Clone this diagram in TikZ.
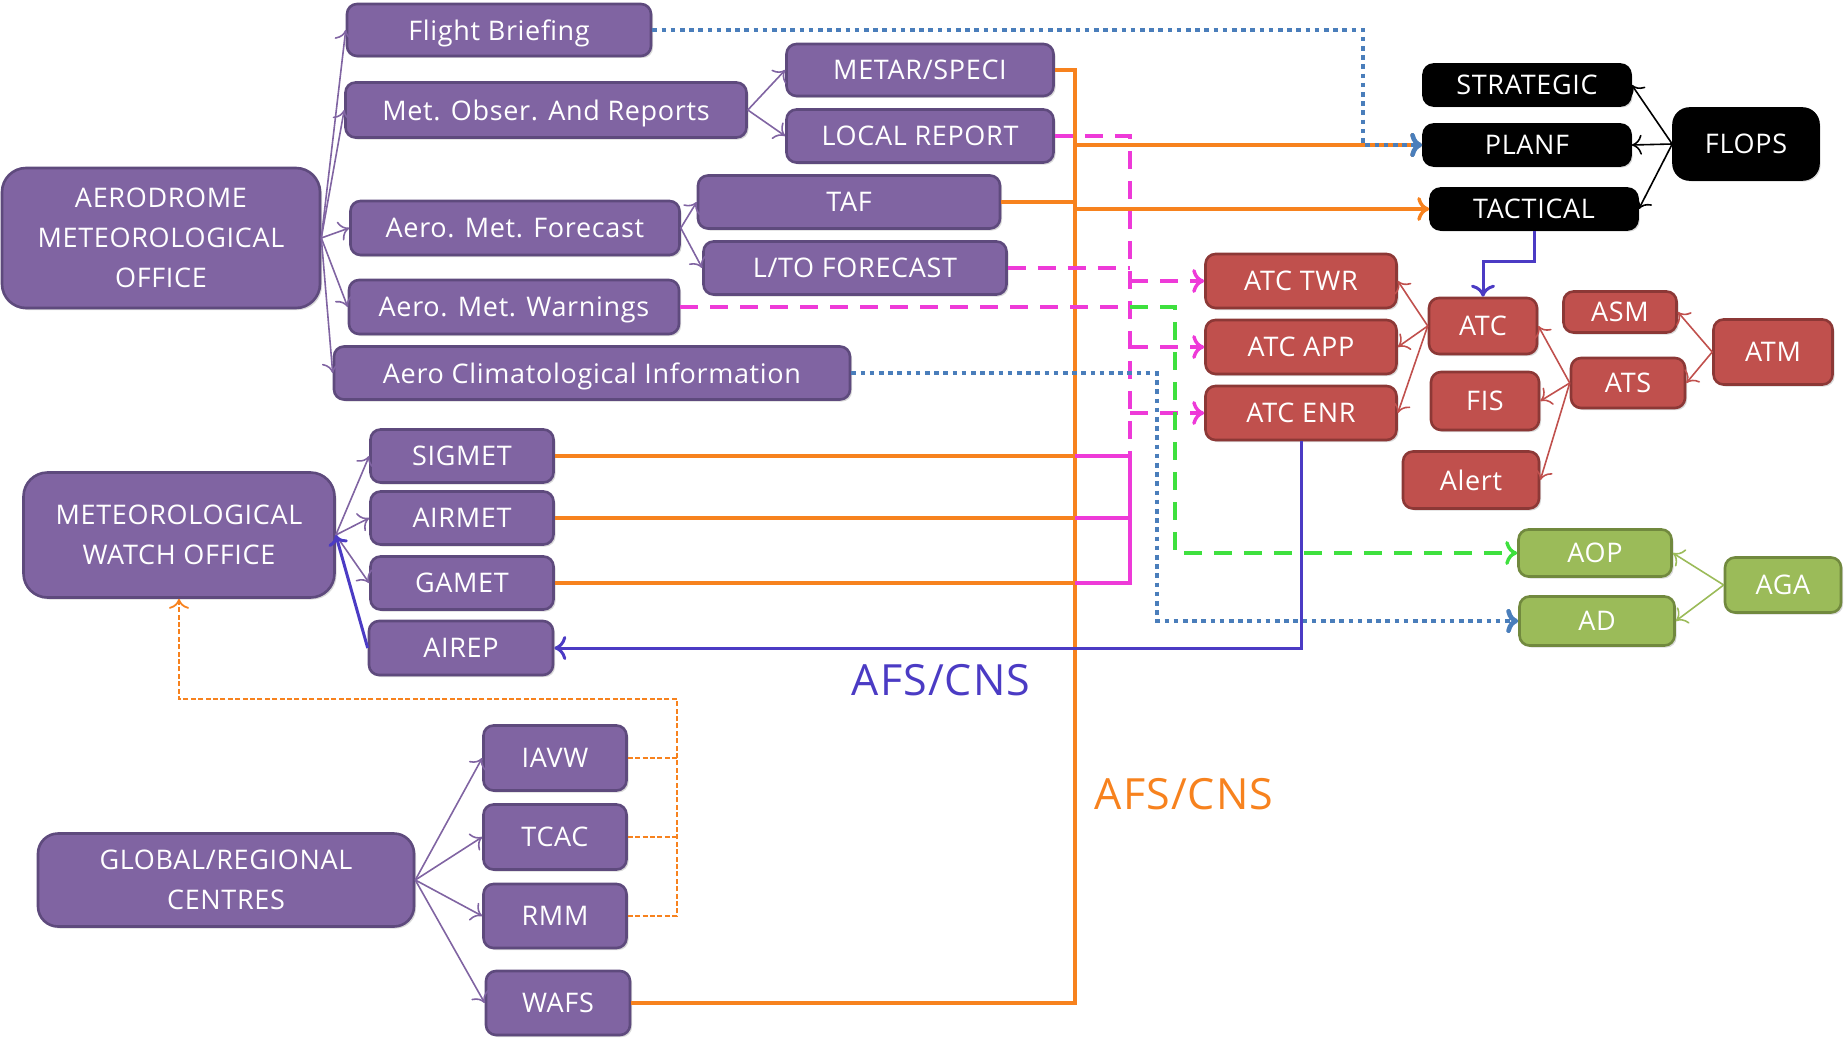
\documentclass[tikz,border=0pt]{standalone}
\usepackage{fontspec}
\setmainfont[LetterSpace=2.5]{Open Sans}
\usetikzlibrary{positioning,arrows.meta,shadows}

\definecolor{metfill}{HTML}{8064A2}
\definecolor{metedge}{HTML}{5E4A7D}
\definecolor{atmfill}{HTML}{C0504D}
\definecolor{atmedge}{HTML}{8C3836}
\definecolor{agafill}{HTML}{9BBB59}
\definecolor{agaedge}{HTML}{71893E}
\definecolor{busorange}{HTML}{F7821E}
\definecolor{magline}{HTML}{EE3AD8}
\definecolor{grline}{HTML}{3EE03E}
\definecolor{dotblue}{HTML}{4A7EBB}
\definecolor{cnsblue}{HTML}{4B3BC4}

\begin{document}
\begin{tikzpicture}[x=0.5pt,y=-0.5pt,font=\fontsize{13.5}{20}\selectfont,
  >={To[length=5pt,width=10pt]},
  wh/.style 2 args={minimum width=#1*0.5pt,minimum height=#2*0.5pt},
  box/.style={rounded corners=5pt,line width=1.3pt,inner sep=0pt,align=center,text=white,
    text depth=0pt,drop shadow={opacity=.3,shadow xshift=1pt,shadow yshift=-1pt}},
  multi/.style={text depth=},
  met/.style={box,draw=metedge,fill=metfill},
  atm/.style={box,draw=atmedge,fill=atmfill},
  aga/.style={box,draw=agaedge,fill=agafill},
  flop/.style={box,draw=black,fill=black},
  fan/.style={->,metfill,line width=.8pt},
  atmarr/.style={->,atmfill,line width=.8pt},
  agaarr/.style={->,agafill,line width=.8pt},
  floparr/.style={->,black,line width=.8pt},
  bus/.style={busorange,line width=1.7pt},
  bigtip/.style={-{To[length=6pt,width=12pt]}},
  magdash/.style={magline,line width=1.7pt,dash pattern=on 9pt off 6pt},
  magsolid/.style={magline,line width=1.6pt},
  grdash/.style={grline,line width=1.7pt,dash pattern=on 9pt off 6pt},
  bdot/.style={dotblue,line width=2.3pt,dash pattern=on 2.3pt off 2.3pt},
  cns/.style={cnsblue,line width=1.5pt},
  odash/.style={busorange,line width=.9pt,dash pattern=on 2.5pt off 1.2pt}]
\useasboundingbox (0,0) rectangle (1845,1038);

% aerodrome office
\node[met,multi,wh={318}{140},rounded corners=12pt] (amo) at (161,238) {AERODROME\\METEOROLOGICAL\\OFFICE};
\node[met,wh={304}{52}] (fb) at (499,30) {Flight Briefing};
\node[met,wh={401}{55}] (mor) at (546,110) {Met. Obser. And Reports};
\node[met,wh={267}{52}] (metar) at (920,70) {METAR/SPECI};
\node[met,wh={267}{53}] (local) at (920,136) {LOCAL REPORT};
\node[met,wh={329}{54}] (amf) at (515,228) {Aero. Met. Forecast};
\node[met,wh={302}{53}] (taf) at (849,202) {TAF};
\node[met,wh={303}{53}] (lto) at (855,268) {L/TO FORECAST};
\node[met,wh={330}{54}] (amw) at (514,307) {Aero. Met. Warnings};
\node[met,wh={516}{53}] (aci) at (592,373) {Aero Climatological Information};

% watch office
\node[met,multi,wh={311}{125},rounded corners=12pt] (mwo) at (179,535) {METEOROLOGICAL\\WATCH OFFICE};
\node[met,wh={183}{53}] (sigmet) at (462,456) {SIGMET};
\node[met,wh={183}{53}] (airmet) at (462,518) {AIRMET};
\node[met,wh={183}{53}] (gamet) at (462,583) {GAMET};
\node[met,wh={184}{54}] (airep) at (461,648) {AIREP};

% global centres
\node[met,multi,wh={376}{93},rounded corners=10pt] (grc) at (226,880) {GLOBAL/REGIONAL\\CENTRES};
\node[met,wh={143}{65}] (iavw) at (555,758) {IAVW};
\node[met,wh={143}{65}] (tcac) at (555,837) {TCAC};
\node[met,wh={143}{64}] (rmm) at (555,916) {RMM};
\node[met,wh={144}{64}] (wafs) at (558,1003) {WAFS};

% flops
\node[flop,wh={207}{41}] (strat) at (1527,85) {STRATEGIC};
\node[flop,wh={207}{41}] (planf) at (1527,145) {PLANF};
\node[flop,wh={207}{41}] (tact) at (1534,209) {TACTICAL};
\node[flop,wh={145}{71},rounded corners=8pt] (flops) at (1746,144) {FLOPS};

% atm
\node[atm,wh={191}{54}] (twr) at (1301,281) {ATC TWR};
\node[atm,wh={191}{54}] (app) at (1301,347) {ATC APP};
\node[atm,wh={191}{54}] (enr) at (1301,413) {ATC ENR};
\node[atm,wh={108}{56}] (atc) at (1483,326) {ATC};
\node[atm,wh={108}{58}] (fis) at (1485,401) {FIS};
\node[atm,wh={136}{57}] (alert) at (1471,480) {Alert};
\node[atm,wh={113}{41}] (asm) at (1620,312) {ASM};
\node[atm,wh={114}{50}] (ats) at (1628,383) {ATS};
\node[atm,wh={119}{65}] (atm) at (1773,352) {ATM};

% aga
\node[aga,wh={153}{47}] (aop) at (1595,553) {AOP};
\node[aga,wh={155}{49}] (ad) at (1597,621) {AD};
\node[aga,wh={116}{55}] (aga) at (1783,585) {AGA};

\node[text=cnsblue,font=\fontsize{21.5}{24}\selectfont] (cnsa) at (941,680) {AFS/CNS};
\node[text=busorange,font=\fontsize{21.5}{24}\selectfont] (cnsb) at (1184,794) {AFS/CNS};

\coordinate (obx) at (1075,0);
\coordinate (mgx) at (1130,0);
\coordinate (grx) at (1175,0);
\coordinate (bdx) at (1363,0);
\coordinate (bcx) at (1157,0);
\coordinate (gcx) at (677,699);
\coordinate (tbend) at (0,261);

% fans
\path (amo.east) edge[fan] (fb.west) edge[fan] (mor.west) edge[fan] (amf.west)
  edge[fan] (amw.west) edge[fan] (aci.west);
\path (mor.east) edge[fan] (metar.west) edge[fan] (local.west);
\path (amf.east) edge[fan] (taf.west) edge[fan] (lto.west);
\path (mwo.east) edge[fan] (sigmet.west) edge[fan] (airmet.west) edge[fan] (gamet.west);
\path (grc.east) edge[fan] (iavw.west) edge[fan] (tcac.west) edge[fan] (rmm.west)
  edge[fan] (wafs.west);
\path (atc.west) edge[atmarr] (twr.east) edge[atmarr] (app.east) edge[atmarr] (enr.east);
\path (ats.west) edge[atmarr] (atc.east) edge[atmarr] (fis.east) edge[atmarr] (alert.east);
\path (atm.west) edge[atmarr] (asm.east) edge[atmarr] (ats.east);
\path (aga.west) edge[agaarr] (aop.east) edge[agaarr] (ad.east);
\path (flops.west) edge[floparr] (strat.east) edge[floparr] (planf.east) edge[floparr] (tact.east);

% centres back to watch office
\draw[odash] (iavw.east) -- (iavw.east -| gcx);
\draw[odash] (tcac.east) -- (tcac.east -| gcx);
\draw[odash,->] (rmm.east) -- (rmm.east -| gcx) -- (gcx) -| (mwo.south);

% orange bus
\draw[bus] (metar.east) -- (metar.east -| obx) -- (wafs.east -| obx) -- (wafs.east);
\draw[bus] (taf.east) -- (taf.east -| obx);
\foreach \n in {sigmet,airmet,gamet}
  \draw[bus] (\n.east) -- (\n.east -| obx);
\draw[bus,bigtip] (planf.west -| obx) -- (planf.west);
\draw[bus,bigtip] (tact.west -| obx) -- (tact.west);

% warnings
\draw[magdash] (local.east) -- (local.east -| mgx) -- (sigmet.east -| mgx);
\draw[magdash] (lto.east) -- (lto.east -| mgx);
\draw[magdash] (amw.east) -- (amw.east -| mgx);
\draw[magsolid] (sigmet.east -| obx) -- (sigmet.east -| mgx) -- (gamet.east -| mgx) -- (gamet.east -| obx);
\draw[magsolid] (airmet.east -| obx) -- (airmet.east -| mgx);
\foreach \n in {twr,app,enr}
  \draw[magdash,bigtip] (\n.west -| mgx) -- (\n.west);
\draw[grdash,bigtip] (amw.east -| mgx) -- (amw.east -| grx) -- (aop.west -| grx) -- (aop.west);

% briefing and climatology
\draw[bdot,bigtip] (fb.east) -- (fb.east -| bdx) -- (planf.west -| bdx) -- (planf.west);
\draw[bdot,bigtip] (aci.east) -- (aci.east -| bcx) -- (ad.west -| bcx) -- (ad.west);

% afs/cns
\draw[cns,bigtip] (enr.south) -- (enr.south |- airep.east) -- (airep.east);
\draw[cns,bigtip] (tact.south) -- (tact.south |- tbend) -- (atc.north |- tbend) -- (atc.north);
\draw[cns,->] (airep.west) -- (mwo.east);
\end{tikzpicture}
\end{document}
